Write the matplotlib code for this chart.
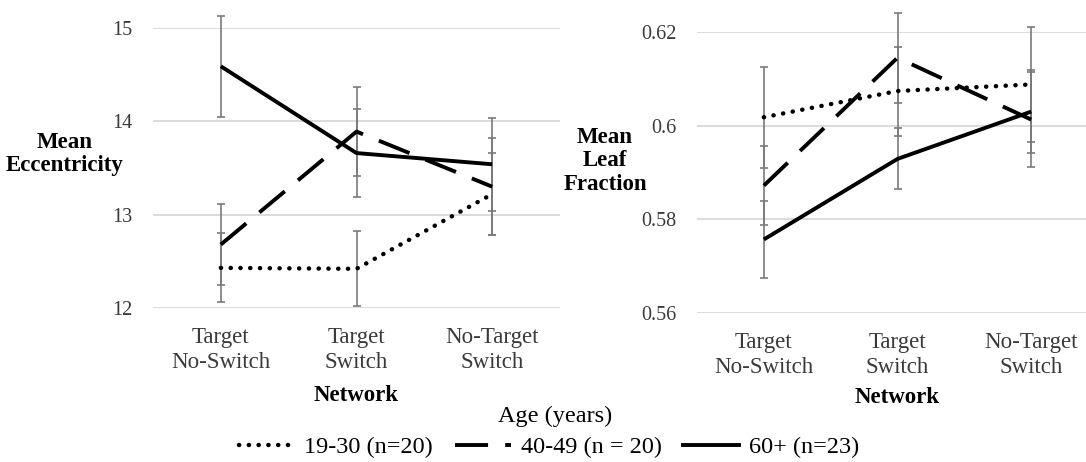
import numpy as np
import matplotlib.pyplot as plt
from matplotlib.lines import Line2D

plt.rcParams['font.family'] = ['Liberation Serif', 'DejaVu Serif']

categories = ["Target\nNo-Switch", "Target\nSwitch", "No-Target\nSwitch"]
groups = ["19-30 (n=20)", "40-49 (n = 20)", "60+ (n=23)"]

# Mean eccentricity (left panel)
ecc_mean = {
    "19-30 (n=20)": [12.43, 12.42, 13.22],
    "40-49 (n = 20)": [12.68, 13.89, 13.30],
    "60+ (n=23)": [14.59, 13.66, 13.54],
}
ecc_err = {
    "19-30 (n=20)": [0.37, 0.40, 0.44],
    "40-49 (n = 20)": [0.43, 0.48, 0.52],
    "60+ (n=23)": [0.54, 0.47, 0.50],
}

# Mean leaf fraction (right panel)
leaf_mean = {
    "19-30 (n=20)": [0.6018, 0.6074, 0.6088],
    "40-49 (n = 20)": [0.5872, 0.6145, 0.6013],
    "60+ (n=23)": [0.5757, 0.5929, 0.6030],
}
leaf_err = {
    "19-30 (n=20)": [0.0108, 0.0095, 0.0123],
    "40-49 (n = 20)": [0.0084, 0.0096, 0.0101],
    "60+ (n=23)": [0.0083, 0.0065, 0.0088],
}

styles = {
    "19-30 (n=20)": dict(linestyle=(0, (0.05, 2.15)), lw=3.2, dash_capstyle="round"),
    "40-49 (n = 20)": dict(linestyle=(0, (8.5, 4.4)), lw=2.8, dash_capstyle="butt"),
    "60+ (n=23)": dict(linestyle="-", lw=2.8),
}

GRID = "#d9d9d9"
ERR = "#7a7a7a"
TXT = "#3a3a3a"


def panel(ax, means, errs, ylim, yticks, ylabels, ylabel, ylabel_x, ylabel_y, xlabelpad):
    x = np.arange(len(categories))
    for g in groups:
        ax.errorbar(x, means[g], yerr=errs[g], fmt="none", ecolor=ERR,
                    elinewidth=1.2, capsize=3.0, capthick=1.2, clip_on=False, zorder=2)
    for g in groups:
        ax.plot(x, means[g], color="black", solid_capstyle="butt", zorder=3, clip_on=False, **styles[g])
    ax.set_xlim(-0.5, 2.5)
    ax.set_ylim(*ylim)
    ax.set_yticks(yticks)
    ax.set_yticklabels(ylabels, fontsize=14.5, color=TXT)
    ax.set_xticks(x)
    ax.set_xticklabels(categories, fontsize=16.5, color=TXT, linespacing=1.22)
    ax.tick_params(axis="x", length=0, pad=14)
    ax.tick_params(axis="y", length=0, pad=15)
    for s in ax.spines.values():
        s.set_visible(False)
    ax.yaxis.grid(True, color=GRID, lw=1.3)
    ax.set_axisbelow(True)
    ax.set_xlabel("Network", fontsize=16.5, fontweight="bold", labelpad=xlabelpad)
    ax.text(ylabel_x, ylabel_y, ylabel, transform=ax.figure.transFigure, ha="center", va="center",
            fontsize=16.5, fontweight="bold", linespacing=1.18)


fig = plt.figure(figsize=(10.86, 4.62), dpi=100)
ax1 = fig.add_axes([153 / 1086, 1 - 308 / 462, 407 / 1086, 280 / 462])
ax2 = fig.add_axes([697 / 1086, 1 - 313 / 462, 401 / 1086, 281 / 462])

panel(ax1, ecc_mean, ecc_err, (12, 15), [12, 13, 14, 15], ["12", "13", "14", "15"],
      "Mean\nEccentricity", 65 / 1086, 1 - 154 / 462, 8.5)
panel(ax2, leaf_mean, leaf_err, (0.56, 0.62), [0.56, 0.58, 0.60, 0.62],
      ["0.56", "0.58", "0.6", "0.62"], "Mean\nLeaf\nFraction", 605 / 1086, 1 - 161 / 462, 6.5)

fig.text(555 / 1086, 1 - 416 / 462, "Age (years)", ha="center", va="center", fontsize=17.5)

handles = [Line2D([], [], color="black", **styles[g]) for g in groups]
fig.legend(handles, groups, loc="center", bbox_to_anchor=(549 / 1086, 1 - 447 / 462), ncol=3,
           frameon=False, fontsize=17.5, handlelength=2.3, handletextpad=0.4, columnspacing=0.9,
           borderpad=0, borderaxespad=0)

fig.savefig("out.png", dpi=100)
